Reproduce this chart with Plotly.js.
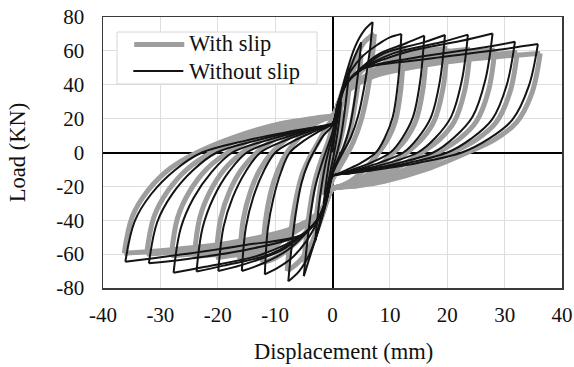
<!DOCTYPE html>
<html>
<head>
<meta charset="utf-8">
<script src="https://cdn.plot.ly/plotly-3.0.1.min.js"></script>
<style>html,body{margin:0;padding:0;background:#fff}#chart{width:574px;height:367px}</style>
</head>
<body>
<div id="chart"></div>
<script>
// Series names
const seriesNames = ['With slip', 'Without slip'];

// "With slip" hysteresis path (displacement mm, load kN)
const slipX = [
  0, 0.5, 1, 1.5,
  1.2, 0.7, 0.2, -0.4, -1, -1.5,
  -1.2, -0.7, -0.1, 0.6, 1.5, 2.3, 3,
  2.6, 2, 1.3, 0.6, 0, -1, -2, -3,
  -2.6, -2, -1.3, -0.6, 0, 1, 2.5, 3.8, 5,
  4.5, 3.8, 3, 2, 0.8, 0, -1, -2.5, -3.8, -5,
  -4.5, -3.8, -3, -2, -0.8, 0, 1, 2.5, 4, 5.5, 7.3,
  6.8, 6, 4.9, 3.6, 2.2, 1, 0, -1, -2.5, -4, -6, -7.9,
  -7.3, -6.5, -5.4, -4, -2.5, -1.2, 0, 1.5, 3.5, 6, 9.9, 12.4,
  11.9, 10.97, 9.67, 8.06, 5.58, 3.1, 1.24, 0, -1.5, -3.5, -6, -9.8, -12.2,
  -11.71, -10.8, -9.52, -7.93, -5.49, -3.05, -1.22, 0, 1.5, 4, 8, 13.1, 16.4,
  15.74, 14.51, 12.79, 10.66, 7.38, 4.1, 1.64, 0, -1.5, -4, -8, -13, -16.2,
  -15.55, -14.34, -12.64, -10.53, -7.29, -4.05, -1.62, 0, 1.5, 4, 7, 10, 16, 20,
  19.2, 17.7, 15.6, 13, 9, 5, 2, 0, -1.5, -4, -7, -10.2, -16.2, -20.3,
  -19.49, -17.97, -15.83, -13.2, -9.14, -5.08, -2.03, 0, 1.5, 4, 7, 12, 19.2, 24,
  23.04, 21.24, 18.72, 15.6, 10.8, 6, 2.4, 0, -1.5, -4, -7, -12.1, -19.3, -24.1,
  -23.14, -21.33, -18.8, -15.67, -10.85, -6.03, -2.41, 0, 1.5, 4, 7, 14.2, 22.6, 28.3,
  27.17, 25.05, 22.07, 18.4, 12.74, 7.08, 2.83, 0, -1.5, -4, -7, -14.1, -22.5, -28.1,
  -26.98, -24.87, -21.92, -18.27, -12.65, -7.03, -2.81, 0, 1.5, 4, 7, 16.1, 25.8, 32.2,
  30.91, 28.5, 25.12, 20.93, 14.49, 8.05, 3.22, 0, -1.5, -4, -7, -16.2, -25.9, -32.4,
  -31.1, -28.67, -25.27, -21.06, -14.58, -8.1, -3.24, 0, 1.5, 4, 7, 18.1, 29, 36.2,
  34.75, 32.04, 28.24, 23.53, 16.29, 9.05, 3.62, 0, -1.5, -4, -7, -18.2, -29, -36.3,
  -34.85, -32.13, -28.31, -23.6, -16.34, -9.08, -3.63, 0
];
const slipY = [
  0, 10, 19, 25,
  16, 6, -3, -11, -19, -25,
  -16, -5, 5, 15, 27, 36, 42,
  30, 17, 6, -2, -14, -26, -36, -45,
  -32, -18, -6, 3, 12, 24, 38, 50, 58,
  42, 26, 12, 2, -8, -15, -28, -44, -56, -65,
  -48, -30, -16, -5, 6, 15, 28, 44, 56, 65, 70,
  52, 34, 18, 6, -3, -10, -16, -29, -44, -56, -65, -70,
  -48, -30, -14, -3, 6, 14, 20, 32, 42, 51, 59, 62,
  37.2, 18.6, 8.1, 0, -10, -17, -20, -21.5, -32, -42, -52, -62, -65,
  -41, -24, -10.5, 0, 10, 17, 20, 21.5, 32, 41, 50, 59.5, 61.5,
  36.9, 18.5, 8, 0, -10, -17, -20, -21.5, -32, -41, -50, -60.5, -63,
  -39.5, -23.5, -10, 0, 10, 17, 20, 21.5, 32, 40, 45, 55.4, 59.7, 61.5,
  36.9, 18.5, 8, 0, -10, -17, -20, -21.5, -32, -40, -45, -55.8, -60.1, -62,
  -39, -23.2, -9.9, 0, 10, 17, 20, 21.5, 32, 40, 45, 54.9, 59.2, 61,
  36.6, 18.3, 7.9, 0, -10, -17, -20, -21.5, -32, -40, -45, -55.4, -59.7, -61.5,
  -38.7, -23, -9.8, 0, 10, 17, 20, 21.5, 32, 40, 45, 54.5, 58.7, 60.5,
  36.3, 18.2, 7.9, 0, -10, -17, -20, -21.5, -32, -40, -45, -54.9, -59.2, -61,
  -38.4, -22.8, -9.7, 0, 10, 17, 20, 21.5, 32, 40, 45, 53.1, 57.2, 59,
  35.4, 17.7, 7.7, 0, -10, -17, -20, -21.5, -32, -40, -45, -54, -58.2, -60,
  -37.8, -22.5, -9.6, 0, 10, 17, 20, 21.5, 32, 40, 45, 52.7, 56.7, 58.5,
  35.1, 17.6, 7.6, 0, -10, -17, -20, -21.5, -32, -40, -45, -53.6, -57.7, -59.5,
  -37.5, -22.3, -9.5, 0, 10, 17, 20, 21.5
];

// "Without slip" hysteresis path (displacement mm, load kN)
const noSlipX = [
  0, 0.5, 1, 1.5,
  1.2, 0.8, 0.3, -0.3, -0.9, -1.5,
  -1.2, -0.7, -0.2, 0.5, 1.5, 2.3, 3,
  2.6, 2.1, 1.5, 0.8, 0, -1, -2, -3,
  -2.6, -2, -1.3, -0.6, 0, 1, 2.5, 3.8, 5,
  4.5, 3.8, 3, 2, 0.8, 0, -1, -2.5, -3.8, -5,
  -4.5, -3.8, -3, -2, -0.8, 0, 1, 2.5, 4, 5.5, 7,
  6.5, 5.6, 4.5, 3.2, 1.8, 0.6, 0, -1, -2.5, -4, -5.8, -7.7,
  -7.1, -6.4, -5.4, -4.2, -3, -1.6, 0, 1, 2.5, 5, 8, 10, 12,
  11.46, 10.5, 9.12, 7.56, 5.04, 2.64, 0.96, 0, -1, -2.5, -4.5, -7, -9.5, -11.8,
  -11.27, -10.33, -8.97, -7.43, -4.96, -2.6, -0.94, 0, 1, 2.5, 5, 8, 12.8, 16,
  15.28, 14, 12.16, 10.08, 6.72, 3.52, 1.28, 0, -1, -2.5, -5, -8, -12.5, -15.8,
  -15.09, -13.83, -12.01, -9.95, -6.64, -3.48, -1.26, 0, 1, 2.5, 5, 8.8, 15.7, 19.6,
  18.72, 17.15, 14.9, 12.35, 8.23, 4.31, 1.57, 0, -1, -2.5, -5, -9, -15.9, -19.9,
  -19.0, -17.41, -15.12, -12.54, -8.36, -4.38, -1.59, 0, 1, 2.5, 5, 10.6, 18.9, 23.6,
  22.54, 20.65, 17.94, 14.87, 9.91, 5.19, 1.89, 0, -1, -2.5, -5, -10.7, -19, -23.7,
  -22.63, -20.74, -18.01, -14.93, -9.95, -5.21, -1.9, 0, 1, 2.5, 5, 12.6, 22.3, 27.9,
  26.64, 24.41, 21.2, 17.58, 11.72, 6.14, 2.23, 0, -1, -2.5, -5, -12.5, -22.2, -27.7,
  -26.45, -24.24, -21.05, -17.45, -11.63, -6.09, -2.22, 0, 1, 2.5, 5, 14.3, 25.4, 31.8,
  30.37, 27.83, 24.17, 20.03, 13.36, 7.0, 2.54, 0, -1, -2.5, -5, -14.4, -25.6, -32,
  -30.56, -28, -24.32, -20.16, -13.44, -7.04, -2.56, 0, 1, 2.5, 5, 16.1, 28.6, 35.8,
  34.19, 31.33, 27.21, 22.55, 15.04, 7.88, 2.86, 0, -1, -2.5, -5, -16, -28, -36.1,
  -34.48, -31.59, -27.44, -22.74, -15.16, -7.94, -2.89, 0
];
const noSlipY = [
  0, 12, 22, 30,
  20, 10, 0, -10, -20, -30,
  -20, -8, 2, 16, 32, 42, 50,
  38, 24, 10, 0, -10, -24, -38, -52,
  -38, -22, -8, 2, 10, 26, 44, 56, 65,
  48, 30, 15, 4, -5, -12, -28, -46, -60, -73,
  -56, -36, -20, -8, 4, 12, 28, 48, 63, 72, 77,
  60, 40, 22, 9, 0, -8, -13, -28, -46, -60, -70, -76,
  -55, -36, -18, -6, 2, 10, 16, 30, 44, 56, 64, 68, 70,
  42.7, 21, 8.75, 0, -6, -10, -12.5, -14, -27, -40, -52, -62, -68, -72,
  -45, -27.4, -11.5, 0, 7, 12, 15, 17, 29, 41, 50, 58, 64.5, 69,
  42.1, 20.7, 8.6, 0, -6, -10, -12.5, -14, -27, -39, -49, -58, -66, -70,
  -44, -26.6, -11.2, 0, 7, 12, 15, 17, 29, 41, 49, 58.3, 64.9, 69.4,
  42.3, 20.8, 8.7, 0, -6, -10, -12.5, -14, -27, -39, -48, -58, -66.5, -70,
  -44, -26.6, -11.2, 0, 7, 12, 15, 17, 29, 41, 49, 58.5, 65.1, 69.6,
  42.5, 20.9, 8.7, 0, -6, -10, -12.5, -14, -27, -39, -48, -59.8, -66.8, -70.3,
  -44.3, -26.7, -11.2, 0, 7, 12, 15, 17, 29, 41, 49, 59, 65.8, 70.3,
  42.9, 21.1, 8.8, 0, -6, -10, -12.5, -14, -27, -39, -48, -60.4, -67.5, -71,
  -44.7, -27, -11.4, 0, 7, 12, 15, 17, 29, 41, 49, 56, 61.5, 65.4,
  39.9, 19.6, 8.2, 0, -6, -10, -12.5, -14, -27, -39, -48, -57, -63, -65.4,
  -41.2, -24.9, -10.5, 0, 7, 12, 15, 17, 29, 41, 49, 55, 60.5, 64,
  39, 19.2, 8, 0, -6, -10, -12.5, -14, -27, -39, -48, -55, -61, -64.5,
  -40.6, -24.5, -10.3, 0, 7, 12, 15, 17
];

// Axis ticks and titles
const xTickVals = [-40, -30, -20, -10, 0, 10, 20, 30, 40];
const xTickText = ['-40', '-30', '-20', '-10', '0', '10', '20', '30', '40'];
const yTickVals = [-80, -60, -40, -20, 0, 20, 40, 60, 80];
const yTickText = ['-80', '-60', '-40', '-20', '0', '20', '40', '60', '80'];
const xTitle = 'Displacement (mm)';
const yTitle = 'Load (KN)';

// Split a path into branches wherever the displacement direction reverses
function branches(xs, ys) {
  const out = [];
  let cur = {x: [xs[0]], y: [ys[0]]};
  let dir = 0;
  for (let i = 1; i < xs.length; i++) {
    const d = Math.sign(xs[i] - xs[i - 1]);
    if (dir !== 0 && d !== 0 && d !== dir) {
      out.push(cur);
      cur = {x: [xs[i - 1]], y: [ys[i - 1]]};
    }
    if (d !== 0) dir = d;
    cur.x.push(xs[i]);
    cur.y.push(ys[i]);
  }
  out.push(cur);
  return out;
}

const slipColor = '#9e9e9e';
const noSlipColor = '#141414';
const traces = [];
branches(slipX, slipY).forEach((b, i) => {
  traces.push({
    x: b.x, y: b.y, type: 'scatter', mode: 'lines',
    name: seriesNames[0], legendgroup: 'slip', showlegend: false,
    line: {color: slipColor, width: 5, shape: 'spline', smoothing: 1},
    hoverinfo: 'skip'
  });
});
branches(noSlipX, noSlipY).forEach((b, i) => {
  traces.push({
    x: b.x, y: b.y, type: 'scatter', mode: 'lines',
    name: seriesNames[1], legendgroup: 'noslip', showlegend: false,
    line: {color: noSlipColor, width: 2, shape: 'spline', smoothing: 1},
    hoverinfo: 'skip'
  });
});

const font = 'Liberation Serif, Times New Roman, serif';
const textFont = {family: font, size: 22.5, color: '#111'};

// Legend drawn as a boxed key in the upper-left of the plot
const shapes = [
  {type: 'rect', xref: 'paper', yref: 'paper', x0: 0.0305, x1: 0.4662, y0: 0.7528, y1: 0.9446,
   fillcolor: '#fff', line: {color: '#d6d6d6', width: 1}, layer: 'above'},
  {type: 'line', xref: 'paper', yref: 'paper', x0: 0.068, x1: 0.177, y0: 0.8985, y1: 0.8985,
   line: {color: slipColor, width: 5}, layer: 'above'},
  {type: 'line', xref: 'paper', yref: 'paper', x0: 0.066, x1: 0.175, y0: 0.8007, y1: 0.8007,
   line: {color: noSlipColor, width: 2}, layer: 'above'}
];
const annotations = [
  {xref: 'paper', yref: 'paper', x: 0.182, y: 0.9004, xanchor: 'left', yanchor: 'middle',
   text: seriesNames[0], showarrow: false, font: textFont},
  {xref: 'paper', yref: 'paper', x: 0.182, y: 0.8007, xanchor: 'left', yanchor: 'middle',
   text: seriesNames[1], showarrow: false, font: textFont},
  {xref: 'paper', yref: 'paper', x: 0.525, y: -0.236, xanchor: 'center', yanchor: 'middle',
   text: xTitle, showarrow: false, font: textFont}
];

const layout = {
  width: 574, height: 367,
  margin: {l: 103, r: 12, t: 17, b: 79, pad: 0},
  paper_bgcolor: '#fff', plot_bgcolor: '#fff',
  font: {family: font, size: 21, color: '#111'},
  showlegend: false,
  shapes: shapes,
  annotations: annotations,
  xaxis: {
    range: [-40, 40], tickvals: xTickVals, ticktext: xTickText,
    showgrid: true, gridcolor: '#dedede', gridwidth: 1,
    zeroline: true, zerolinecolor: '#000', zerolinewidth: 2,
    showline: true, mirror: true, linecolor: '#3a3a3a', linewidth: 1.5,
    ticks: '', ticklabelstandoff: 7,
    tickfont: {family: font, size: 21, color: '#111'}
  },
  yaxis: {
    range: [-80, 80], tickvals: yTickVals, ticktext: yTickText,
    showgrid: true, gridcolor: '#dedede', gridwidth: 1,
    zeroline: true, zerolinecolor: '#000', zerolinewidth: 2,
    showline: true, mirror: true, linecolor: '#3a3a3a', linewidth: 1.5,
    ticks: '', ticklabelstandoff: 13,
    tickfont: {family: font, size: 21, color: '#111'},
    title: {text: yTitle, font: textFont, standoff: 24}
  }
};

Plotly.newPlot('chart', traces, layout, {staticPlot: true, displayModeBar: false});
</script>
</body>
</html>
